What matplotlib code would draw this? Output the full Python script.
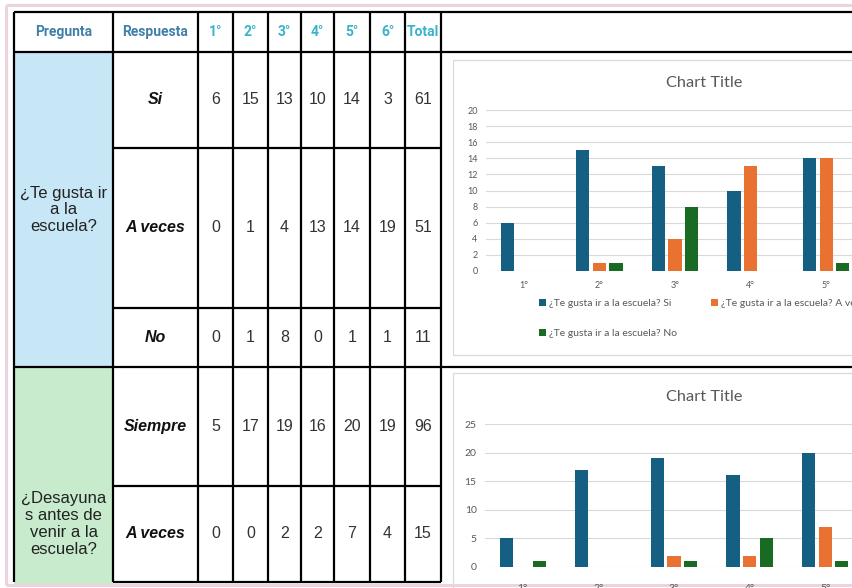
import matplotlib
matplotlib.use("Agg")
import matplotlib.pyplot as plt
from matplotlib.patches import Rectangle
import numpy as np

# ---- data -------------------------------------------------------------
grades = ["1°", "2°", "3°", "4°", "5°", "6°"]
header = ["Pregunta", "Respuesta"] + grades + ["Total"]

q1_text = "¿Te gusta ir\na la\nescuela?"
q1_answers = ["Si", "A veces", "No"]
q1_si = [6, 15, 13, 10, 14, 3]
q1_aveces = [0, 1, 4, 13, 14, 19]
q1_no = [0, 1, 8, 0, 1, 1]

q2_text = "¿Desayuna\ns antes de\nvenir a la\nescuela?"
q2_answers = ["Siempre", "A veces"]
q2_siempre = [5, 17, 19, 16, 20, 19]
q2_aveces = [0, 0, 2, 2, 7, 4]
q2_third = [1, 0, 1, 5, 1]

legend1 = ["¿Te gusta ir a la escuela? Si",
           "¿Te gusta ir a la escuela? A veces",
           "¿Te gusta ir a la escuela? No"]
chart_title = "Chart Title"

# ---- styling ----------------------------------------------------------
W, H = 852, 588
BLUE, ORANGE, GREEN = "#156082", "#E97132", "#196B24"
GRAY_TXT = "#595959"
GRID = "#d9d9d9"
col_x = [14, 113, 198, 233, 268, 301, 334, 370, 405, 441]
row_y = [12, 52, 148, 308, 367, 486, 582]
TBL_FONT = "Liberation Sans"
HDR_FONT = "Roboto"
CH_FONT = "Lato"

fig = plt.figure(figsize=(W / 100, H / 100), dpi=100)
fig.patch.set_facecolor("white")

tab = fig.add_axes([0, 0, 1, 1])
tab.set_xlim(0, W)
tab.set_ylim(H, 0)
tab.axis("off")

# page border
pink = "#ecd3de"
tab.plot([6, W], [5, 5], color=pink, lw=2.2, solid_capstyle="butt")
tab.plot([6, W], [585, 585], color=pink, lw=2.2, solid_capstyle="butt")
tab.plot([6, 6], [5, 585], color=pink, lw=2.2, solid_capstyle="butt")

# question cells
tab.add_patch(Rectangle((col_x[0], row_y[1]), col_x[1] - col_x[0], row_y[4] - row_y[1],
                        facecolor="#c8e7f6", edgecolor="none"))
tab.add_patch(Rectangle((col_x[0], row_y[4]), col_x[1] - col_x[0], row_y[6] - row_y[4] + 2,
                        facecolor="#c7ebcc", edgecolor="none"))

# chart frames
tab.add_patch(Rectangle((453, 60), 430, 295, facecolor="white", edgecolor=GRID, lw=0.9))
tab.add_patch(Rectangle((453, 373), 430, 240, facecolor="white", edgecolor=GRID, lw=0.9))

# grid lines of the table
LW = 1.6
for y in (row_y[0], row_y[1], row_y[4]):
    tab.plot([col_x[0], W], [y, y], color="black", lw=LW, solid_capstyle="butt")
for y in (row_y[2], row_y[3], row_y[5], row_y[6]):
    tab.plot([col_x[1], col_x[-1]], [y, y], color="black", lw=LW, solid_capstyle="butt")
for x in col_x:
    tab.plot([x, x], [row_y[0], row_y[6]], color="black", lw=LW, solid_capstyle="butt")

# header texts
hy = (row_y[0] + row_y[1]) / 2
for i, lab in enumerate(header):
    cx = (col_x[i] + col_x[i + 1]) / 2
    color = "#3f80a8" if i < 2 else "#3ab2ca"
    tab.text(cx, hy, lab, ha="center", va="center", fontsize=10,
             fontweight="bold", family=HDR_FONT, color=color)

# body rows
rows = [
    (q1_answers[0], q1_si, row_y[1], row_y[2]),
    (q1_answers[1], q1_aveces, row_y[2], row_y[3]),
    (q1_answers[2], q1_no, row_y[3], row_y[4]),
    (q2_answers[0], q2_siempre, row_y[4], row_y[5]),
    (q2_answers[1], q2_aveces, row_y[5], row_y[6]),
]
for ans, vals, y0, y1 in rows:
    cy = (y0 + y1) / 2
    tab.text((col_x[1] + col_x[2]) / 2, cy, ans, ha="center", va="center",
             fontsize=11.5, fontweight="bold", fontstyle="italic",
             family=TBL_FONT, color="#111111")
    for j, v in enumerate(list(vals) + [sum(vals)]):
        cx = (col_x[2 + j] + col_x[3 + j]) / 2
        tab.text(cx, cy, str(v), ha="center", va="center", fontsize=11.5,
                 family=TBL_FONT, color="#333333")

qx = (col_x[0] + col_x[1]) / 2
tab.text(qx, 210, q1_text, ha="center", va="center", fontsize=12,
         family=TBL_FONT, color="#222222", linespacing=1.15)
tab.text(qx, 524, q2_text, ha="center", va="center", fontsize=12,
         family=TBL_FONT, color="#222222", linespacing=1.15)

# ---- charts -----------------------------------------------------------
CAT = 75.6
BW, STEP = 0.176, 0.22


def chart(left, y0px, ytop_px, ymax, ystep, series, tick_fs, xpad):
    ax = fig.add_axes([left / W, 1 - y0px / H, 6 * CAT / W, (y0px - ytop_px) / H])
    ax.set_facecolor("none")
    x = np.arange(len(grades))
    bars = []
    for k, (vals, col) in enumerate(series):
        xs = x[:len(vals)] + (k - 1) * STEP
        bars.append(ax.bar(xs, vals, width=BW, color=col, zorder=3))
    ax.set_xlim(-0.5, 5.5)
    ax.set_ylim(0, ymax)
    ax.set_yticks(np.arange(0, ymax + 0.1, ystep))
    ax.set_xticks(x)
    ax.set_xticklabels(grades)
    ax.yaxis.grid(True, color=GRID, lw=0.8, zorder=0)
    ax.set_axisbelow(True)
    for s in ax.spines.values():
        s.set_visible(False)
    ax.tick_params(length=0, labelsize=tick_fs, labelcolor=GRAY_TXT, pad=6)
    ax.tick_params(axis="x", pad=xpad)
    for t in ax.get_xticklabels() + ax.get_yticklabels():
        t.set_family(CH_FONT)
    return ax, bars


ax1, b1 = chart(486, 271, 110, 20, 2,
                [(q1_si, BLUE), (q1_aveces, ORANGE), (q1_no, GREEN)], 6.5, 7)
tab.text(704, 83, chart_title, ha="center", va="center", fontsize=11.8,
         family=CH_FONT, color=GRAY_TXT)
ax1.legend([b1[0], b1[2], b1[1]], [legend1[0], legend1[2], legend1[1]],
           ncol=2, loc="upper left", bbox_to_anchor=(539, 299),
           bbox_transform=tab.transData, frameon=False, borderpad=0,
           borderaxespad=0, handlelength=0.65, handleheight=0.65,
           handletextpad=0.3, labelspacing=2.0, columnspacing=3.3,
           labelcolor=GRAY_TXT, prop={"family": CH_FONT, "size": 7.5})

ax2, b2 = chart(485, 567, 424, 25, 5,
                [(q2_siempre, BLUE), (q2_aveces, ORANGE), (q2_third, GREEN)], 7.5, 12)
tab.text(704, 397, chart_title, ha="center", va="center", fontsize=11.8,
         family=CH_FONT, color=GRAY_TXT)

fig.savefig("out.png", dpi=100, facecolor="white")
